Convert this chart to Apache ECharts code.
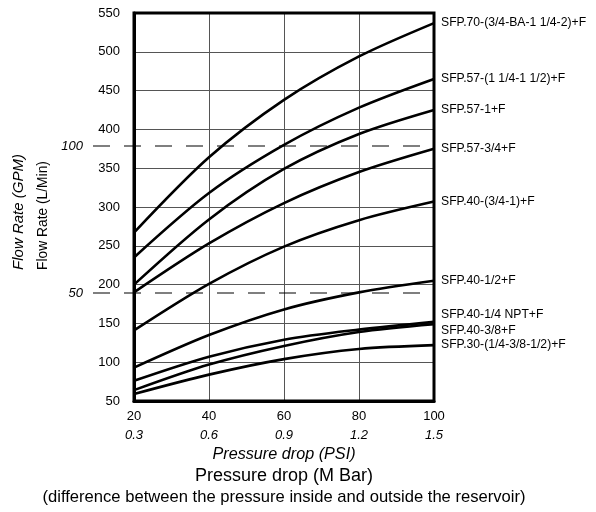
<!DOCTYPE html>
<html><head><meta charset="utf-8">
<script src="https://cdn.jsdelivr.net/npm/echarts@6/dist/echarts.min.js"></script>
<style>html,body{margin:0;padding:0;background:#fff}#c{width:596px;height:512px}</style>
</head><body><div id="c"></div>
<script>
// ---- data ----
const pressurePSI = [20, 40, 60, 80, 100];
const pressureMBar = ['0.3', '0.6', '0.9', '1.2', '1.5'];
const seriesNames = [
  'SFP.70-(3/4-BA-1 1/4-2)+F',
  'SFP.57-(1 1/4-1 1/2)+F',
  'SFP.57-1+F',
  'SFP.57-3/4+F',
  'SFP.40-(3/4-1)+F',
  'SFP.40-1/2+F',
  'SFP.40-1/4 NPT+F',
  'SFP.40-3/8+F',
  'SFP.30-(1/4-3/8-1/2)+F'
];
const sfp70_34ba = [267, 364, 438, 494, 537];
const sfp57_114 = [235, 318, 380, 428, 465];
const sfp57_1 = [200, 284, 349, 394, 425];
const sfp57_34 = [190, 253, 305, 345, 375];
const sfp40_34_1 = [141, 201, 249, 283, 307];
const sfp40_12 = [93, 135, 168, 190, 205];
const sfp40_14npt = [76, 107, 129, 142, 152];
const sfp40_38 = [64, 97, 121, 139, 149];
const sfp30 = [59, 84, 104, 117, 122];
const seriesValues = [sfp70_34ba, sfp57_114, sfp57_1, sfp57_34, sfp40_34_1, sfp40_12, sfp40_14npt, sfp40_38, sfp30];
const lpmTicks = [50, 550, 50]; // min, max, step (L/Min)
const gpmRefLines = [100, 50];
const LPM_PER_GPM = 3.78541;

// ---- chart ----
const FONT = '"Liberation Sans", Arial, sans-serif';
const labelOffsets = {'SFP.40-1/4 NPT+F': [0, -7], 'SFP.40-3/8+F': [0, 6]};

const chart = echarts.init(document.getElementById('c'), null, {renderer: 'canvas'});
const series = seriesNames.map((name, i) => ({
  name: name,
  type: 'line',
  xAxisIndex: 0, yAxisIndex: 0,
  data: pressurePSI.map((p, j) => [p, seriesValues[i][j]]),
  smooth: 0.3,
  showSymbol: false,
  symbol: 'none',
  z: 5,
  lineStyle: {color: '#000', width: 2.6},
  endLabel: {
    show: true,
    formatter: '{a}',
    distance: 7,
    offset: labelOffsets[name] || [0, 0],
    color: '#000',
    fontFamily: FONT,
    fontSize: 12.2
  }
}));
gpmRefLines.forEach(g => {
  series.push({
    type: 'line',
    xAxisIndex: 1, yAxisIndex: 1,
    data: [[0, g], [1, g]],
    showSymbol: false, symbol: 'none',
    silent: true,
    z: 3,
    lineStyle: {color: '#000', width: 1.1, type: [17, 14]}
  });
});

chart.setOption({
  animation: false,
  backgroundColor: '#fff',
  grid: [
    {left: 134, right: 162, top: 13, bottom: 111, show: true, borderColor: '#000', borderWidth: 3, z: 6, outerBoundsMode: 'none', containLabel: false},
    {left: 93, right: 162, top: 13, bottom: 111, show: false, outerBoundsMode: 'none', containLabel: false}
  ],
  xAxis: [
    {
      type: 'value', gridIndex: 0, min: 20, max: 100, interval: 20,
      axisLine: {show: true, lineStyle: {color: '#000', width: 3}},
      axisTick: {show: false},
      splitLine: {show: true, lineStyle: {color: '#555', width: 1}},
      axisLabel: {
        margin: 6,
        formatter: v => '{a|' + v + '}\n{b|' + pressureMBar[pressurePSI.indexOf(v)] + '}',
        rich: {
          a: {fontFamily: FONT, fontSize: 13, color: '#000', lineHeight: 19},
          b: {fontFamily: FONT, fontSize: 13, fontStyle: 'italic', color: '#000', lineHeight: 19}
        }
      },
      name: '{i|Pressure drop (PSI)}\n{n|Pressure drop (M Bar)}\n{s|(difference between the pressure inside and outside the reservoir)}',
      nameLocation: 'middle',
      nameGap: 43,
      nameTextStyle: {
        rich: {
          i: {fontFamily: FONT, fontSize: 16.2, fontStyle: 'italic', color: '#000', lineHeight: 21},
          n: {fontFamily: FONT, fontSize: 18, color: '#000', lineHeight: 21},
          s: {fontFamily: FONT, fontSize: 16.6, color: '#000', lineHeight: 23}
        }
      }
    },
    {type: 'value', gridIndex: 1, min: 0, max: 1, show: false}
  ],
  yAxis: [
    {
      type: 'value', gridIndex: 0, min: lpmTicks[0], max: lpmTicks[1], interval: lpmTicks[2],
      axisLine: {show: true, lineStyle: {color: '#000', width: 3}},
      axisTick: {show: false},
      splitLine: {show: true, lineStyle: {color: '#555', width: 1}},
      axisLabel: {margin: 14, fontFamily: FONT, fontSize: 13, color: '#000'},
      name: '{g|Flow Rate (GPM)}\n{l|Flow Rate (L/Min)}',
      nameLocation: 'middle',
      nameRotate: 90,
      nameGap: 79,
      nameTextStyle: {
        padding: [0, 0, 0, -10],
        rich: {
          g: {fontFamily: FONT, fontSize: 15, fontStyle: 'italic', color: '#000', lineHeight: 24, align: 'left'},
          l: {fontFamily: FONT, fontSize: 13.8, color: '#000', lineHeight: 24, align: 'left'}
        }
      }
    },
    {
      type: 'value', gridIndex: 1,
      min: lpmTicks[0] / LPM_PER_GPM, max: lpmTicks[1] / LPM_PER_GPM,
      axisLine: {show: false}, axisTick: {show: false}, splitLine: {show: false},
      axisLabel: {show: true, customValues: gpmRefLines, margin: 10, fontFamily: FONT, fontSize: 13, fontStyle: 'italic', color: '#000'}
    }
  ],
  series: series
});
</script>
</body></html>
